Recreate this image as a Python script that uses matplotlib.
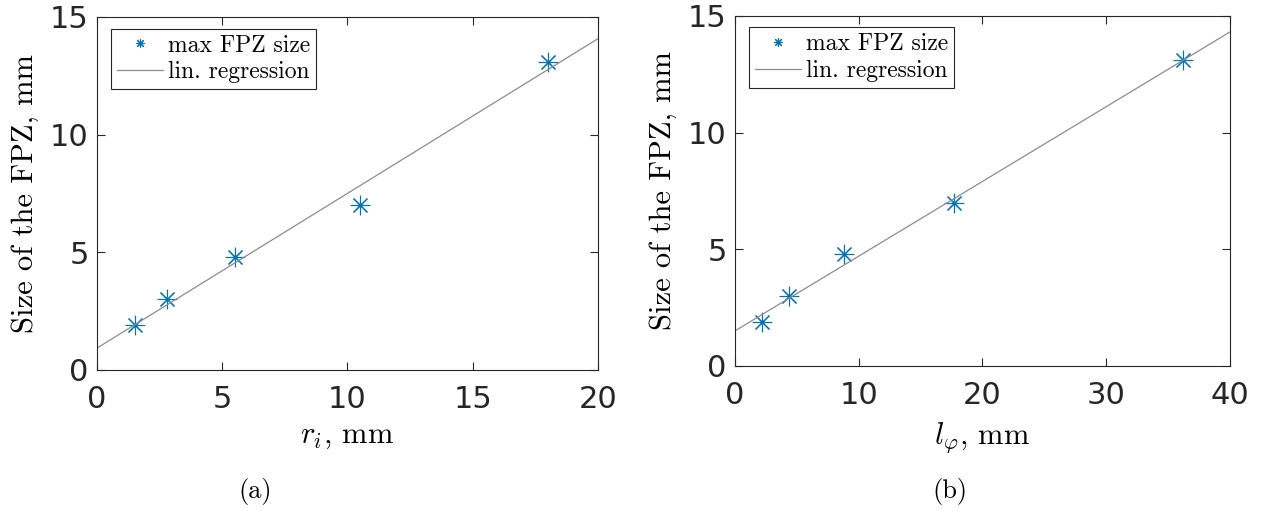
import matplotlib
matplotlib.use("Agg")
import matplotlib.pyplot as plt

# data
fpz_size = [1.9, 3.0, 4.8, 7.0, 13.1]
r_i = [1.5, 2.8, 5.5, 10.5, 18.0]
l_phi = [2.2, 4.4, 8.8, 17.7, 36.2]

# regression lines (intercept, slope)
reg_a = [0.93, 0.657]
reg_b = [1.5, 0.32]

plt.rcParams["mathtext.fontset"] = "cm"
blue = "#0072BD"
serif = "cmr10"

fig = plt.figure(figsize=(12.68, 5.11), dpi=100)
ax1 = fig.add_axes([0.0765, 0.276, 0.395, 0.691])
ax2 = fig.add_axes([0.5797, 0.284, 0.390, 0.685])


def draw(ax, xs, reg, xmax, xticks, xlabel):
    ax.plot(xs, fpz_size, linestyle="none", marker=(8, 2, 0), markersize=14,
            markeredgewidth=0.8, color=blue, label="max FPZ size")
    ax.plot([0, xmax], [reg[0], reg[0] + reg[1] * xmax], color="#8c8c8c",
            linewidth=0.9, label="lin. regression")
    ax.set_xlim(0, xmax)
    ax.set_ylim(0, 15)
    ax.set_xticks(xticks)
    ax.set_yticks([0, 5, 10, 15])
    ax.tick_params(direction="in", top=True, right=True, labelsize=22,
                   colors="#262626", length=6, width=0.8)
    ax.tick_params(axis="x", pad=11)
    ax.tick_params(axis="y", pad=6)
    for s in ax.spines.values():
        s.set_color("#262626")
        s.set_linewidth(0.8)
    ax.set_xlabel(xlabel, fontsize=22, family=serif, labelpad=7)
    ax.set_ylabel("Size of the FPZ, mm", fontsize=22, family=serif, labelpad=8)
    leg = ax.legend(loc="upper left", prop={"family": serif, "size": 17},
                    fancybox=False, framealpha=1, edgecolor="#262626",
                    borderpad=0.25, handlelength=1.95, handletextpad=0.2,
                    labelspacing=0.2, markerscale=0.45, borderaxespad=0,
                    bbox_to_anchor=(0.028, 0.967))
    leg.get_frame().set_linewidth(0.8)


draw(ax1, r_i, reg_a, 20, [0, 5, 10, 15, 20], r"$r_i$, mm")
draw(ax2, l_phi, reg_b, 40, [0, 10, 20, 30, 40], r"$l_\varphi$, mm")

fig.text(0.201, 0.025, "(a)", fontsize=19, family=serif, ha="center")
fig.text(0.749, 0.025, "(b)", fontsize=19, family=serif, ha="center")

fig.savefig("out.png", dpi=100)
